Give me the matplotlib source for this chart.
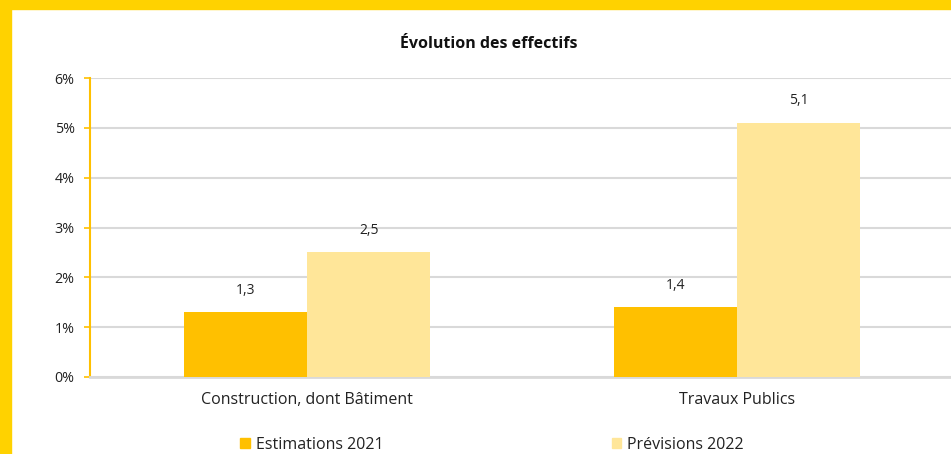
import matplotlib
matplotlib.use("Agg")
import matplotlib.pyplot as plt
from matplotlib.patches import Rectangle, Patch
import numpy as np

categories = ["Construction, dont Bâtiment", "Travaux Publics"]
series_names = ["Estimations 2021", "Prévisions 2022"]
est_2021 = [1.3, 1.4]
prev_2022 = [2.5, 5.1]
yticks = [0, 1, 2, 3, 4, 5, 6]

plt.rcParams['font.family'] = ['Open Sans', 'DejaVu Sans']

W, H = 951, 454
fig = plt.figure(figsize=(W/100, H/100), dpi=100)
ax = fig.add_axes([90/W, (H-377)/H, 1 - 90/W, (377-78)/H])

x = np.arange(len(categories))
bw = 0.286
c1, c2 = "#FFC000", "#FFE699"
b1 = ax.bar(x - bw/2, est_2021, bw, color=c1, zorder=3)
b2 = ax.bar(x + bw/2, prev_2022, bw, color=c2, zorder=3)

for bars, vals in ((b1, est_2021), (b2, prev_2022)):
    for r, v in zip(bars, vals):
        ax.annotate(f"{v:.1f}".replace(".", ","), (r.get_x() + r.get_width()/2, v),
                    xytext=(0, 10.5), textcoords="offset points", ha="center", va="bottom",
                    fontsize=10, color="#222222")

ax.set_xlim(-0.505, 1.497)
ax.set_ylim(0, 6)
ax.set_yticks(yticks)
ax.set_yticklabels([f"{t}%" for t in yticks], fontsize=10.3, color="#222222")
ax.set_xticks(x)
ax.set_xticklabels(categories, fontsize=11.5, color="#222222")
ax.tick_params(axis="x", length=0, pad=11)
ax.tick_params(axis="y", length=4, width=1.2, color=c1, pad=7)
ax.yaxis.grid(True, color="#D9D9D9", linewidth=1.5, zorder=0)
ax.set_axisbelow(True)
for s in ("top", "right"):
    ax.spines[s].set_visible(False)
ax.spines["left"].set_color(c1)
ax.spines["left"].set_linewidth(1.5)
ax.spines["bottom"].set_color("#D9D9D9")
ax.spines["bottom"].set_linewidth(2)

fig.text(489/W, (H-44)/H, "Évolution des effectifs", ha="center", va="center",
         fontsize=11.5, fontweight="bold", color="#111111")

handles = [Patch(color=c1), Patch(color=c2)]
fig.legend(handles, series_names, loc="center", bbox_to_anchor=(492/W, (H-445)/H),
           ncol=2, frameon=False, fontsize=11.5, handlelength=0.6, handleheight=0.6,
           handletextpad=0.35, columnspacing=14.3, labelcolor="#222222")

border = "#FFD200"
fig.patches.append(Rectangle((0, 0), 11/W, 1, transform=fig.transFigure, color=border, zorder=10))
fig.patches.append(Rectangle((0, 1 - 9/H), 1, 9/H, transform=fig.transFigure, color=border, zorder=10))

fig.savefig("out.png", dpi=100)
